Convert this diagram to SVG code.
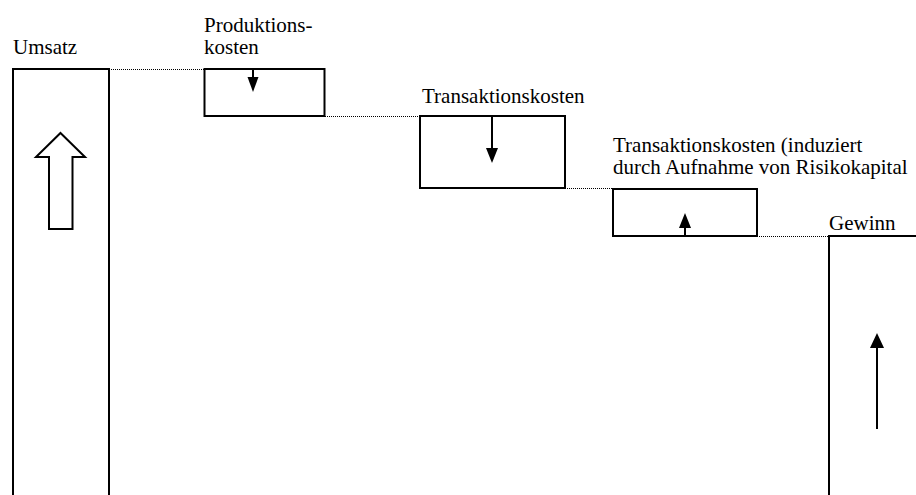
<svg xmlns="http://www.w3.org/2000/svg" width="916" height="495" viewBox="0 0 916 495">
<defs>
<style>
.box{fill:#fff;stroke:#000;stroke-width:2}
.dot{stroke:#000;stroke-width:1;stroke-dasharray:1 1;fill:none}
.ln{stroke:#000;stroke-width:2;fill:none}
.hd{fill:#000;stroke:none}
.t{font-family:'Liberation Serif', serif;font-size:21px;fill:#000}
</style>
</defs>
<rect width="916" height="495" fill="#fff"/>
<g id="connectors">
<line class="dot" x1="109" y1="69.5" x2="204" y2="69.5"/>
<line class="dot" x1="325" y1="116.5" x2="420" y2="116.5"/>
<line class="dot" x1="565" y1="188.5" x2="612" y2="188.5"/>
<line class="dot" x1="757" y1="236.5" x2="829" y2="236.5"/>
</g>
<g id="umsatz">
<rect class="box" x="13" y="69" width="96" height="440"/>
<polygon points="60.5,133 85,157 72.5,157 72.5,229 49,229 49,157 36,157" fill="#fff" stroke="#000" stroke-width="2"/>
<text class="t" x="13" y="54">Umsatz</text>
</g>
<g id="produktionskosten">
<rect class="box" x="204.5" y="69" width="120" height="47"/>
<line class="ln" x1="253" y1="69" x2="253" y2="80"/>
<polygon class="hd" points="247.5,77 258.5,77 253,92"/>
<text class="t" x="204" y="32">Produktions-</text>
<text class="t" x="204" y="54">kosten</text>
</g>
<g id="transaktionskosten">
<rect class="box" x="420" y="116" width="145" height="72"/>
<line class="ln" x1="492" y1="116" x2="492" y2="152"/>
<polygon class="hd" points="486,148 498,148 492,163"/>
<text class="t" x="422" y="103">Transaktionskosten</text>
</g>
<g id="risikokapital">
<rect class="box" x="613" y="189" width="144" height="47"/>
<line class="ln" x1="685" y1="236" x2="685" y2="225"/>
<polygon class="hd" points="679,228 691,228 685,213"/>
<text class="t" x="613" y="152">Transaktionskosten (induziert</text>
<text class="t" x="613" y="174">durch Aufnahme von Risikokapital</text>
</g>
<g id="gewinn">
<rect class="box" x="829" y="236" width="120" height="280"/>
<line class="ln" x1="877" y1="345" x2="877" y2="429"/>
<polygon class="hd" points="870,348 884,348 877,333"/>
<text class="t" x="829" y="230">Gewinn</text>
</g>
</svg>
